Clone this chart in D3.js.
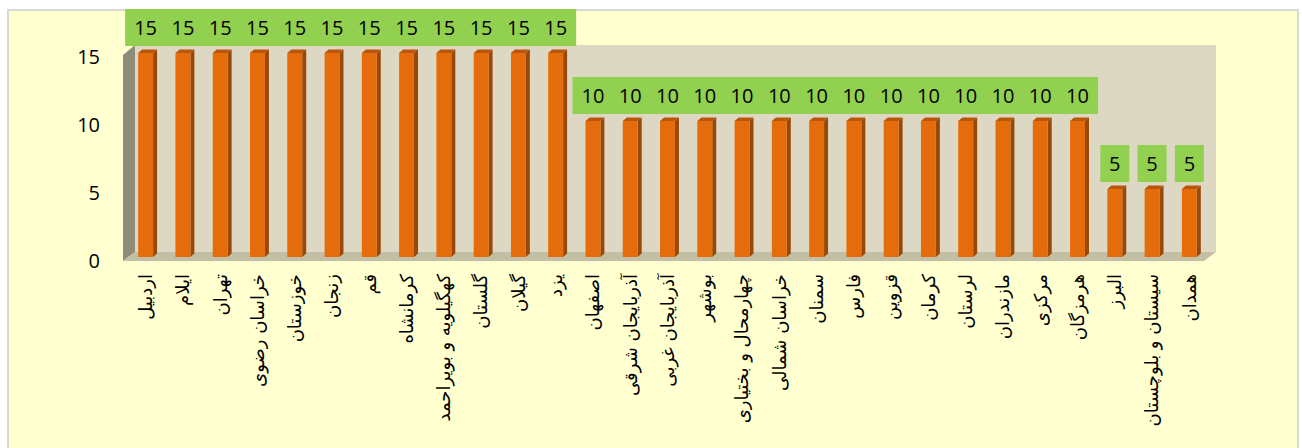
<!DOCTYPE html>
<html>
<head>
<meta charset="utf-8">
<script src="https://cdn.jsdelivr.net/npm/d3@7"></script>
<style>
  body { margin: 0; background: #ffffff; }
  #chart { width: 1302px; height: 448px; }
</style>
</head>
<body>
<div id="chart"></div>
<script>
//provinces, in the order of the chart
var provinces = [
  "اردبیل", "ایلام", "تهران", "خراسان رضوی", "خوزستان", "زنجان", "قم",
  "کرمانشاه", "کهگیلویه و بویراحمد", "گلستان", "گیلان", "یزد",
  "اصفهان", "آذربایجان شرقی", "آذربایجان غربی", "بوشهر",
  "چهارمحال و بختیاری", "خراسان شمالی", "سمنان", "فارس", "قزوین",
  "کرمان", "لرستان", "مازندران", "مرکزی", "هرمزگان",
  "البرز", "سیستان و بلوچستان", "همدان"
];

//score of each province
var scores = [
  15, 15, 15, 15, 15, 15, 15, 15, 15, 15, 15, 15,
  10, 10, 10, 10, 10, 10, 10, 10, 10, 10, 10, 10, 10, 10,
  5, 5, 5
];

//y axis ticks
var yTicks = [0, 5, 10, 15];

var data = provinces.map(function(p, i) {
  return { province: p, value: scores[i] };
});

//define outer size
var outerWidth = 1302;
var outerHeight = 448;

var svg = d3
  .select("#chart")
  .append("svg")
  .attr("width", outerWidth)
  .attr("height", outerHeight);

//chart frame
svg
  .append("rect")
  .attr("x", 8)
  .attr("y", 10)
  .attr("width", 1290)
  .attr("height", 460)
  .attr("fill", "#ffffd0")
  .attr("stroke", "#d9d9d9")
  .attr("stroke-width", 2);

//scales
var xScale = d3
  .scaleBand()
  .domain(provinces)
  .range([127, 1208])
  .paddingInner(0.6)
  .paddingOuter(0.3);

var yScale = d3
  .scaleLinear()
  .domain([0, 15])
  .range([257, 53]);

//3d depth of the plot box and of the bars
var depthX = 12;
var depthY = 9;
var barDepthX = 4;
var barDepthY = 3.5;

var left = 123;
var right = 1204;
var floorY = yScale(0) + 4;
var wallTop = yScale(15) - 8;

//back wall
svg
  .append("rect")
  .attr("x", left + depthX)
  .attr("y", wallTop)
  .attr("width", right - left)
  .attr("height", floorY - depthY - wallTop)
  .attr("fill", "#ddd8c4");

//side wall
svg
  .append("path")
  .attr("d", d3.line()([
    [left, floorY],
    [left, wallTop + depthY + 1],
    [left + depthX, wallTop],
    [left + depthX, floorY - depthY]
  ]) + "Z")
  .attr("fill", "#8e8c7b");

//floor
svg
  .append("path")
  .attr("d", d3.line()([
    [left, floorY],
    [right, floorY],
    [right + depthX, floorY - depthY],
    [left + depthX, floorY - depthY]
  ]) + "Z")
  .attr("fill", "#c2bfa5");

//y axis
var yAxis = d3.axisLeft(yScale).tickValues(yTicks).tickSize(0).tickPadding(0);

var axisG = svg
  .append("g")
  .attr("class", "y axis")
  .attr("transform", "translate(" + 100 + "," + 4 + ")")
  .call(yAxis);

axisG.select(".domain").remove();

axisG
  .selectAll("text")
  .style("font-family", "'Open Sans', sans-serif")
  .style("font-size", "20px")
  .attr("fill", "#000");

//bars
var bw = xScale.bandwidth();

var bars = svg
  .selectAll(".bar")
  .data(data)
  .enter()
  .append("g")
  .attr("class", "bar");

//side face
bars
  .append("path")
  .attr("d", function(d) {
    var x = xScale(d.province) + bw;
    var top = yScale(d.value);
    var base = yScale(0);
    return d3.line()([
      [x, top],
      [x + barDepthX, top - barDepthY],
      [x + barDepthX, base - barDepthY],
      [x, base]
    ]) + "Z";
  })
  .attr("fill", "#984807");

//top face
bars
  .append("path")
  .attr("d", function(d) {
    var x = xScale(d.province);
    var top = yScale(d.value);
    return d3.line()([
      [x, top],
      [x + barDepthX, top - barDepthY],
      [x + bw + barDepthX, top - barDepthY],
      [x + bw, top]
    ]) + "Z";
  })
  .attr("fill", "#b9560a");

//front face
bars
  .append("rect")
  .attr("x", function(d) {
    return xScale(d.province);
  })
  .attr("y", function(d) {
    return yScale(d.value);
  })
  .attr("width", bw)
  .attr("height", function(d) {
    return yScale(0) - yScale(d.value);
  })
  .attr("fill", "#e46c0a");

//data labels: green boxes first, then the numbers on top
var boxH = 37;

var labelBoxes = svg
  .selectAll(".labelbox")
  .data(data)
  .enter()
  .append("rect")
  .attr("class", "labelbox")
  .attr("x", function(d) {
    var w = String(d.value).length > 1 ? 41 : 29;
    return xScale(d.province) + bw / 2 - w / 2;
  })
  .attr("y", function(d) {
    return yScale(d.value) - 7 - boxH;
  })
  .attr("width", function(d) {
    return String(d.value).length > 1 ? 41 : 29;
  })
  .attr("height", boxH)
  .attr("fill", "#92d050");

svg
  .selectAll(".label")
  .data(data)
  .enter()
  .append("text")
  .attr("class", "label")
  .attr("x", function(d) {
    return xScale(d.province) + bw / 2;
  })
  .attr("y", function(d) {
    return yScale(d.value) - 7 - boxH / 2;
  })
  .attr("dy", "0.36em")
  .attr("text-anchor", "middle")
  .style("font-family", "'Open Sans', sans-serif")
  .style("font-size", "20px")
  .attr("fill", "#000")
  .text(function(d) {
    return d.value;
  });

//category labels, rotated
svg
  .selectAll(".cat")
  .data(provinces)
  .enter()
  .append("text")
  .attr("class", "cat")
  .attr("transform", function(d) {
    return "translate(" + (xScale(d) + bw / 2) + "," + 274 + ") rotate(-90)";
  })
  .attr("dy", "0.35em")
  .attr("text-anchor", "end")
  .style("font-family", "'DejaVu Sans', sans-serif")
  .style("font-size", "18px")
  .attr("fill", "#000")
  .text(function(d) {
    return d;
  });
</script>
</body>
</html>
